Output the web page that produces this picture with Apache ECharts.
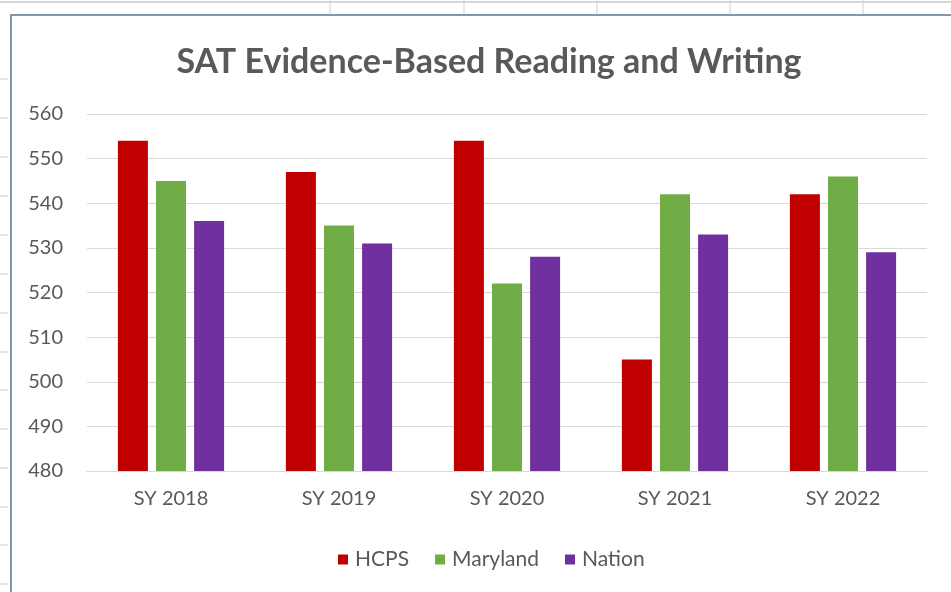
<!DOCTYPE html>
<html>
<head>
<meta charset="utf-8">
<script src="https://cdn.jsdelivr.net/npm/echarts@6/dist/echarts.min.js"></script>
<style>
html,body{margin:0;padding:0;background:#fff;}
#chart{width:951px;height:592px;}
</style>
</head>
<body>
<div id="chart"></div>
<script>
const categories = ['SY 2018', 'SY 2019', 'SY 2020', 'SY 2021', 'SY 2022'];
const hcps = [554, 547, 554, 505, 542];
const maryland = [545, 535, 522, 542, 546];
const nation = [536, 531, 528, 533, 529];
const yTicks = [480, 490, 500, 510, 520, 530, 540, 550, 560];

const FONT = 'Lato, "Noto Sans", sans-serif';
const TXT = '#595959';

// spreadsheet decoration behind the chart frame
const deco = [];
deco.push({type:'line', shape:{x1:0,y1:2,x2:951,y2:2}, style:{stroke:'#d6d6d6', lineWidth:2}, z:-1});
[330,464,597,730,863].forEach(x => deco.push({type:'line', shape:{x1:x,y1:0,x2:x,y2:14}, style:{stroke:'#d0d0d0', lineWidth:1}, z:-1}));
[79,118,157,196,235,274,313,352,390,429,468,507,545,584].forEach(y => deco.push({type:'line', shape:{x1:0,y1:y,x2:8,y2:y}, style:{stroke:'#c8c8c8', lineWidth:1}, z:-1}));
deco.push({type:'polyline', shape:{points:[[11,592],[11,15],[951,15]]}, style:{stroke:'#8497b0', lineWidth:2, fill:null}, z:-1});

const chart = echarts.init(document.getElementById('chart'), null, {renderer:'canvas'});
chart.setOption({
  animation: false,
  backgroundColor: '#ffffff',
  graphic: deco,
  title: {
    text: 'SAT Evidence-Based Reading and Writing',
    left: 484, top: 40, textAlign: 'center',
    textStyle: {fontFamily: FONT, fontWeight: 'bold', fontSize: 34, color: TXT}
  },
  legend: {
    data: ['HCPS', 'Maryland', 'Nation'],
    left: 333, top: 544,
    icon: 'rect', itemWidth: 10, itemHeight: 10, itemGap: 26,
    textStyle: {fontFamily: FONT, fontSize: 21, color: TXT, padding:[0,0,0,2]}
  },
  grid: {left: 87, right: 24, top: 114, bottom: 121, containLabel: false},
  xAxis: {
    type: 'category', data: categories,
    axisLine: {lineStyle: {color: '#d9d9d9', width: 1}},
    axisTick: {show: false},
    axisLabel: {fontFamily: FONT, fontSize: 20, color: TXT, margin: 18}
  },
  yAxis: {
    type: 'value', min: yTicks[0], max: yTicks[yTicks.length-1], interval: 10,
    axisLine: {show: false}, axisTick: {show: false},
    splitLine: {lineStyle: {color: '#d9d9d9', width: 1}},
    axisLabel: {fontFamily: FONT, fontSize: 20, color: TXT, margin: 24}
  },
  series: [
    {name: 'HCPS', type: 'bar', data: hcps, barWidth: 30, barGap: '27%', itemStyle: {color: '#c00000'}},
    {name: 'Maryland', type: 'bar', data: maryland, barWidth: 30, barGap: '27%', itemStyle: {color: '#70ad47'}},
    {name: 'Nation', type: 'bar', data: nation, barWidth: 30, barGap: '27%', itemStyle: {color: '#7030a0'}}
  ]
});
</script>
</body>
</html>
